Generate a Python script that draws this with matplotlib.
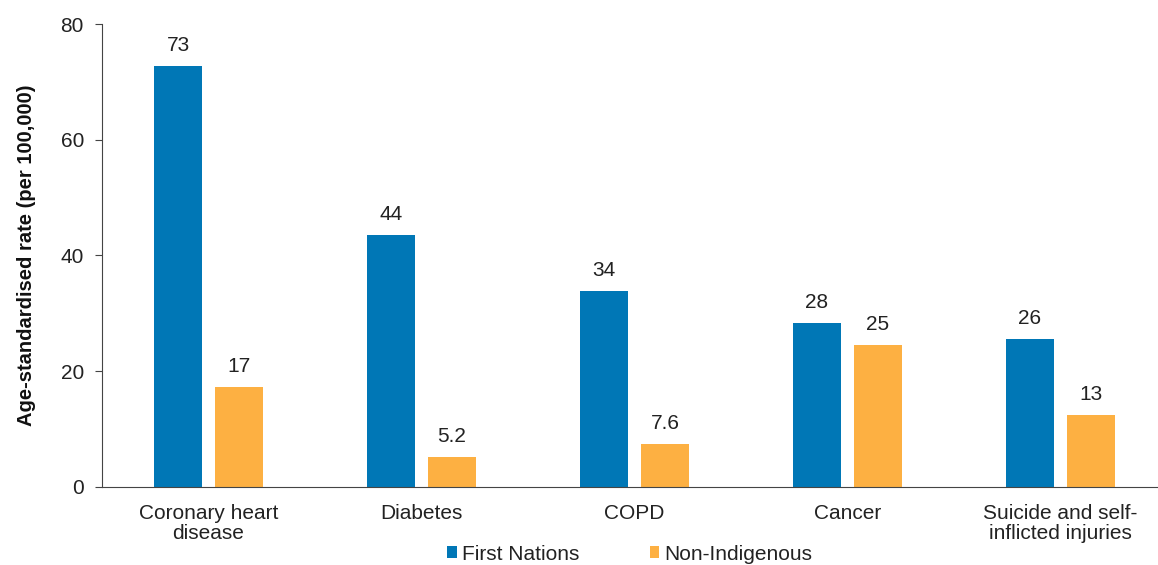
import matplotlib
matplotlib.use("Agg")
import matplotlib.pyplot as plt
import numpy as np

categories = ["Coronary heart\ndisease", "Diabetes", "COPD", "Cancer", "Suicide and self-\ninflicted injuries"]
first_nations = [72.7, 43.6, 33.9, 28.3, 25.6]
non_indigenous = [17.3, 5.2, 7.4, 24.6, 12.4]
fn_labels = ["73", "44", "34", "28", "26"]
ni_labels = ["17", "5.2", "7.6", "25", "13"]
series_names = ["First Nations", "Non-Indigenous"]
yticks = [0, 20, 40, 60, 80]

plt.rcParams['font.family'] = ['Liberation Sans', 'DejaVu Sans']
blue = "#0077b6"
orange = "#fdb042"
txt = "#222222"

fig = plt.figure(figsize=(11.58, 5.65), dpi=100)
# axis extends past the right edge of the image (cropped)
ax = fig.add_axes([102/1158, 1-487/565, (1167-102)/1158, (487-24)/565])

x = np.arange(len(categories))
w = 0.225
off = 0.143
b1 = ax.bar(x - off, first_nations, w, color=blue, label=series_names[0])
b2 = ax.bar(x + off, non_indigenous, w, color=orange, label=series_names[1])
for bars, labs in ((b1, fn_labels), (b2, ni_labels)):
    for rect, lab in zip(bars, labs):
        ax.annotate(lab, (rect.get_x() + rect.get_width()/2, rect.get_height()),
                    xytext=(0, 8), textcoords="offset points", ha="center", va="bottom",
                    fontsize=15, color=txt)

ax.set_xlim(-0.5, len(categories) - 0.5)
ax.set_ylim(0, 80)
ax.set_yticks(yticks)
ax.set_yticklabels([str(t) for t in yticks], fontsize=15, color=txt)
ax.set_xticks(x)
ax.set_xticklabels(categories, fontsize=15, color=txt, linespacing=1.12)
ax.tick_params(axis="x", length=0, pad=12)
ax.tick_params(axis="y", length=5, direction="out", color="#444444", pad=8)
for s in ["top", "right"]:
    ax.spines[s].set_visible(False)
ax.spines["left"].set_color("#444444")
ax.spines["bottom"].set_color("#444444")
ax.set_ylabel("Age-standardised rate (per 100,000)", fontsize=14.5, fontweight="bold", labelpad=18, color="#111111")

leg = fig.legend(handles=[b1, b2], labels=series_names, loc="center", bbox_to_anchor=(630/1158, 1-554/565),
                 ncol=2, frameon=False, fontsize=15, handlelength=0.45, handleheight=0.45,
                 handletextpad=0.25, columnspacing=3.4, borderaxespad=0)
for t in leg.get_texts():
    t.set_color(txt)

fig.savefig("out.png", dpi=100)
